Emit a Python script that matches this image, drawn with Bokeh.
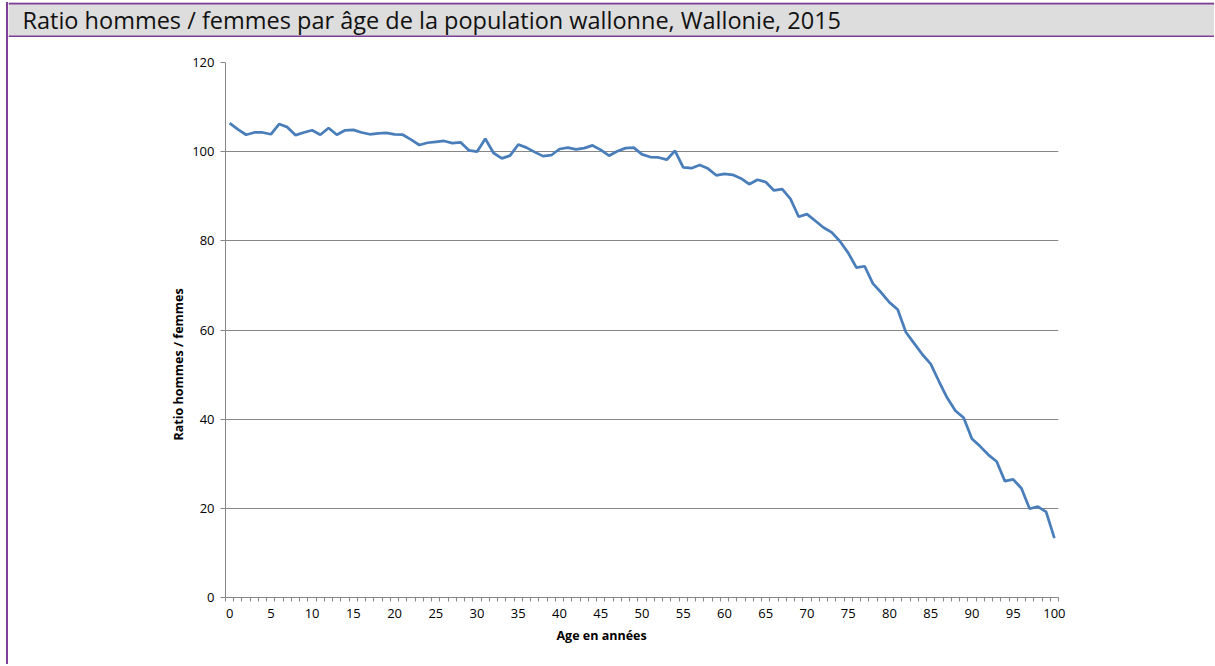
from bokeh.plotting import figure
from bokeh.layouts import column
from bokeh.models import Range1d, FixedTicker, Title
from bokeh.core.properties import value
from bokeh.embed import file_html
from bokeh.resources import INLINE

title_text = "Ratio hommes / femmes par âge de la population wallonne, Wallonie, 2015"
x_label = "Age en années"
y_label = "Ratio hommes / femmes"

ages = list(range(0, 101))
ratio = [
    106.4, 105.0, 103.8, 104.3, 104.3, 103.9, 106.2, 105.5, 103.7, 104.3,
    104.8, 103.8, 105.3, 103.8, 104.8, 104.9, 104.3, 103.9, 104.1, 104.2,
    103.9, 103.8, 102.7, 101.5, 102.0, 102.2, 102.4, 101.9, 102.1, 100.3,
    100.0, 102.9, 99.7, 98.5, 99.1, 101.6, 100.9, 99.9, 99.0, 99.2,
    100.6, 100.9, 100.5, 100.8, 101.4, 100.4, 99.1, 100.1, 100.8, 100.9,
    99.4, 98.8, 98.7, 98.2, 100.2, 96.5, 96.3, 97.0, 96.2, 94.7,
    95.0, 94.8, 94.0, 92.7, 93.7, 93.2, 91.3, 91.6, 89.4, 85.4,
    86.0, 84.5, 83.0, 81.9, 79.9, 77.3, 74.0, 74.3, 70.4, 68.4,
    66.2, 64.6, 59.5, 57.0, 54.5, 52.4, 48.5, 44.8, 41.9, 40.3,
    35.6, 33.9, 32.0, 30.5, 26.1, 26.5, 24.5, 19.9, 20.4, 19.2,
    13.3,
]
x_tick_labels = list(range(0, 101, 5))
y_ticks = [0, 20, 40, 60, 80, 100, 120]

PURPLE = "#7f3f98"
GRID = "#868686"
FONT = "Open Sans"

W = 1206
HH = 35

# ---- header band ----
hdr = figure(width=W, height=HH, x_range=Range1d(0, W), y_range=Range1d(0, HH),
             x_axis_type=None, y_axis_type=None, output_backend="svg",
             toolbar_location=None, min_border=0)
hdr.frame_align = False
hdr.background_fill_color = "#dddddd"
hdr.border_fill_color = "#dddddd"
hdr.outline_line_color = None
hdr.grid.visible = False
hdr.hspan(y=[HH - 1, 1], line_color=PURPLE, line_width=2)
hdr.text(x=[14], y=[17.5], text=[title_text], text_baseline="middle", text_align="left",
         text_font=value(FONT), text_font_size="23.5px", text_color="#111111")

# ---- chart ----
p = figure(width=W, height=627, x_range=Range1d(-0.5, 100.5), y_range=Range1d(0, 120),
           output_backend="svg", toolbar_location=None,
           min_border_left=217, min_border_right=156, min_border_top=25, min_border_bottom=67)
p.frame_align = False
p.outline_line_color = None
p.background_fill_color = "white"
p.xgrid.visible = False
p.ygrid.grid_line_color = GRID
p.ygrid.grid_line_width = 1

p.xaxis.ticker = FixedTicker(ticks=x_tick_labels, minor_ticks=[i - 0.5 for i in range(102)])
p.xaxis.major_tick_out = 0
p.xaxis.major_tick_in = 0
p.xaxis.minor_tick_out = 4
p.xaxis.minor_tick_in = 0
p.xaxis.minor_tick_line_color = GRID
p.xaxis.major_label_standoff = 7

p.yaxis.ticker = FixedTicker(ticks=y_ticks)
p.yaxis.major_tick_out = 5
p.yaxis.major_tick_in = 0
p.yaxis.minor_tick_line_color = None
p.yaxis.major_tick_line_color = GRID
p.yaxis.major_label_standoff = 6

for ax in (p.xaxis, p.yaxis):
    ax.axis_line_color = GRID
    ax.major_label_text_font = FONT
    ax.major_label_text_font_size = "13px"
    ax.major_label_text_color = "#000000"

# axis titles placed as in the reference (not centred on the plot area)
p.add_layout(Title(text=x_label, align="left", offset=331, standoff=8,
                   text_font=FONT, text_font_style="bold", text_font_size="12.5px",
                   text_color="#000000"), "below")
p.add_layout(Title(text=y_label, align="left", offset=157, standoff=6,
                   text_font=FONT, text_font_style="bold", text_font_size="12.5px",
                   text_color="#000000"), "left")

p.line(ages, ratio, line_color="#4a7ebb", line_width=2.75)

root = column(hdr, p, spacing=0,
              styles={"border-left": "2px solid " + PURPLE, "margin-left": "6px", "margin-top": "2px"})

open("out.html", "w").write(file_html(root, INLINE))
